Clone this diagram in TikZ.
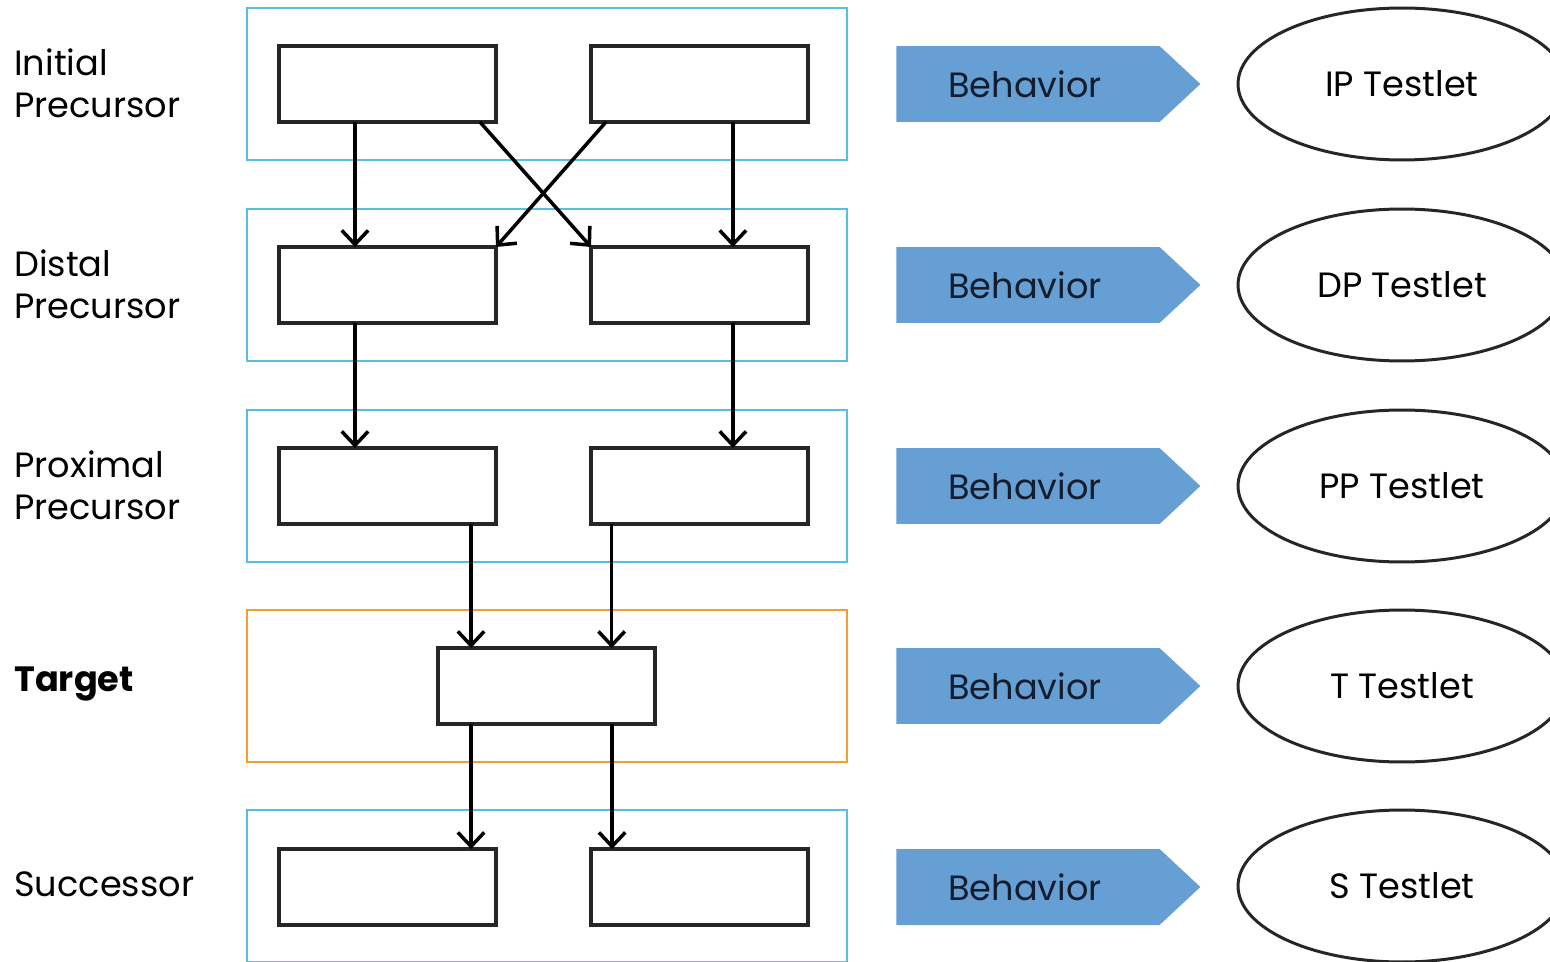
\documentclass[tikz,border=0pt]{standalone}
\usepackage{fontspec}
\setmainfont{Poppins}
\usetikzlibrary{arrows.meta,calc,shapes.geometric,shapes.symbols}
\definecolor{frameblue}{RGB}{91,190,222}
\definecolor{frameorange}{RGB}{240,160,50}
\definecolor{behavblue}{RGB}{102,159,212}
\definecolor{behavtext}{RGB}{20,28,45}
\tikzset{
  px/.style={x=0.02cm,y=-0.02cm},
  group/.style={draw=frameblue,line width=1.2pt,minimum width=12cm,minimum height=3.04cm,inner sep=0pt},
  tgroup/.style={group,draw=frameorange},
  inbox/.style={draw=black!85,line width=2.1pt,minimum width=4.34cm,minimum height=1.52cm,inner sep=0pt,outer sep=0pt,fill=white},
  arr/.style={line width=2pt,-{Straight Barb[length=8pt,width=15pt,line width=2pt]}},
  behav/.style={signal,signal to=east,signal pointer angle=86,fill=behavblue,draw=none,minimum width=6.08cm,minimum height=1.52cm,inner sep=0pt},
  btext/.style={font=\fontsize{20}{24}\selectfont,text=behavtext},
  testlet/.style={ellipse,draw=black!85,line width=1.7pt,minimum width=6.56cm,minimum height=3.04cm,inner sep=0pt,font=\fontsize{20}{24}\selectfont},
  rowlabel/.style={anchor=west,align=left,font=\fontsize{20}{24}\selectfont,inner sep=0pt}
}
\begin{document}
\begin{tikzpicture}[px]
\useasboundingbox (0,0) rectangle (1550,962);
\clip (0,0) rectangle (1550,962);
\fill[white] (0,0) rectangle (1550,962);
% row labels
\node[rowlabel] (lab1) at (14,83) {Initial\\Precursor};
\node[rowlabel] (lab2) at (14,284) {Distal\\Precursor};
\node[rowlabel] (lab3) at (14,485) {Proximal\\Precursor};
\node[rowlabel,font=\fontsize{20}{24}\selectfont\bfseries] (lab4) at (14,684) {Target};
\node[rowlabel] (lab5) at (14,884) {Successor};
% group frames
\node[group] (g1) at (547,84) {};
\node[group] (g2) at (547,285) {};
\node[group] (g3) at (547,486) {};
\node[tgroup] (g4) at (547,686) {};
\node[group] (g5) at (547,886) {};
% inner boxes
\node[inbox] (L1) at (387.5,84) {};
\node[inbox] (R1) at (699.5,84) {};
\node[inbox] (L2) at (387.5,285) {};
\node[inbox] (R2) at (699.5,285) {};
\node[inbox] (L3) at (387.5,486) {};
\node[inbox] (R3) at (699.5,486) {};
\node[inbox] (T) at (546.5,686) {};
\node[inbox] (L5) at (387.5,887) {};
\node[inbox] (R5) at (699.5,887) {};
% arrow x positions
\path ($(L2.north west)!0.35!(L2.north east)$) coordinate (a1)
      ($(R2.north west)!0.654!(R2.north east)$) coordinate (a2)
      ($(L1.south west)!0.926!(L1.south east)$) coordinate (c1)
      ($(R1.south west)!0.069!(R1.south east)$) coordinate (c2)
      ($(L3.north west)!0.35!(L3.north east)$) coordinate (a3)
      ($(R3.north west)!0.654!(R3.north east)$) coordinate (a4)
      ($(T.north west)!0.152!(T.north east)$) coordinate (a5)
      ($(T.north west)!0.80!(T.north east)$) coordinate (a6)
      ($(L5.north west)!0.885!(L5.north east)$) coordinate (a7)
      ($(R5.north west)!0.097!(R5.north east)$) coordinate (a8);
% arrows
\draw[arr] (a1 |- L1.south) -- (a1);
\draw[arr] (a2 |- R1.south) -- (a2);
\draw[arr] (c1) -- (R2.north west);
\draw[arr] (c2) -- (L2.north east);
\draw[arr] (a3 |- L2.south) -- (a3);
\draw[arr] (a4 |- R2.south) -- (a4);
\draw[arr] (a5 |- L3.south) -- (a5);
\draw[arr] (a6 |- R3.south) -- (a6);
\draw[arr] (a7 |- T.south) -- (a7);
\draw[arr] (a8 |- T.south) -- (a8);
% behavior arrows
\foreach \i/\y in {1/84,2/285,3/486,4/686,5/887}{
  \node[behav] (b\i) at (1028,\y) {};
  \node[btext] (bt\i) at (1025,\y) {Behavior};
}
% testlets
\node[testlet] (t1) at (1402,84) {IP Testlet};
\node[testlet] (t2) at (1402,285) {DP Testlet};
\node[testlet] (t3) at (1402,486) {PP Testlet};
\node[testlet] (t4) at (1402,686) {T Testlet};
\node[testlet] (t5) at (1402,886) {S Testlet};
\end{tikzpicture}
\end{document}
